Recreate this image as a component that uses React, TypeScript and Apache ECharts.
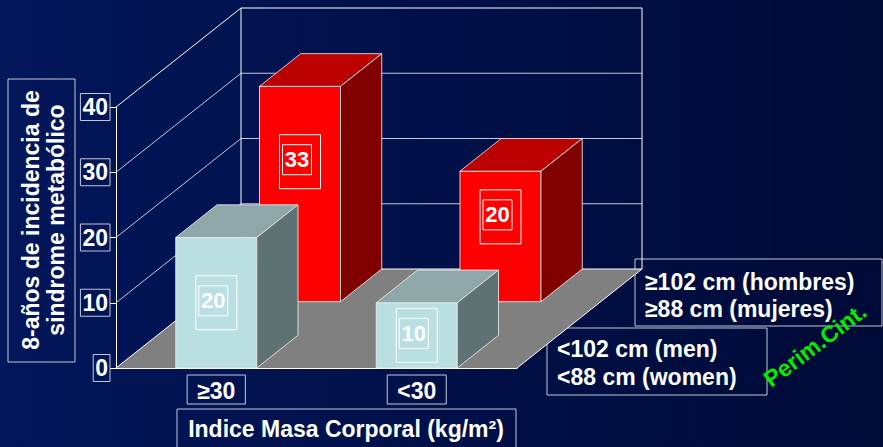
import React, { useEffect, useRef } from "react";
import * as echarts from "echarts";

// ---- data ----
const categories = ["≥30", "<30"];
const yTicks = [0, 10, 20, 30, 40];
const frontValues = [20, 10]; // <102 cm (men) / <88 cm (women)
const backValues = [33, 20]; // ≥102 cm (hombres) / ≥88 cm (mujeres)
const frontName = "<102 cm (men) / <88 cm (women)";
const backName = "≥102 cm (hombres) / ≥88 cm (mujeres)";
const legendHigh = ["≥102 cm (hombres)", "≥88 cm (mujeres)"];
const legendLow = ["<102 cm (men)", "<88 cm (women)"];
const yTitle = ["8-años de incidencia de", "sindrome metabólico"];
const xTitle = "Indice Masa Corporal (kg/m²)";
const depthTitle = "Perim.Cint.";

// ---- geometry / style ----
const FONT = "'Liberation Sans', Arial, sans-serif";
const DX = 125;
const DY = -99;
const BAR_RATIO = 0.404;

function frameRender(params: any, api: any) {
  const cs = params.coordSys;
  const L = cs.x;
  const R = cs.x + cs.width;
  const y0 = api.coord([0, yTicks[0]])[1];
  const yMax = api.coord([0, yTicks[yTicks.length - 1]])[1];
  const children: any[] = [];
  children.push({
    type: "polygon",
    shape: { points: [[L, y0], [R, y0], [R + DX, y0 + DY], [L + DX, y0 + DY]] },
    style: { fill: "#808080", stroke: "none" },
  });
  yTicks.forEach((t, i) => {
    const y = api.coord([0, t])[1];
    const isEdge = i === 0 || i === yTicks.length - 1;
    const col = isEdge ? "#ffffff" : "#c4c8d8";
    children.push({
      type: "line",
      shape: { x1: L + DX, y1: y + DY, x2: R + DX, y2: y + DY },
      style: { stroke: col, lineWidth: 1 },
    });
    children.push({
      type: "line",
      shape: { x1: L, y1: y, x2: L + DX, y2: y + DY },
      style: { stroke: col, lineWidth: 1 },
    });
  });
  children.push({
    type: "line",
    shape: { x1: L + DX, y1: y0 + DY, x2: L + DX, y2: yMax + DY },
    style: { stroke: "#ffffff", lineWidth: 1 },
  });
  children.push({
    type: "line",
    shape: { x1: R + DX, y1: y0 + DY, x2: R + DX, y2: yMax + DY },
    style: { stroke: "#ffffff", lineWidth: 1 },
  });
  children.push({
    type: "line",
    shape: { x1: R, y1: y0, x2: R + DX, y2: y0 + DY },
    style: { stroke: "#ffffff", lineWidth: 1 },
  });
  return { type: "group", children };
}

function makeBarRender(d0: number, d1: number, colors: string[], labelFrac: number) {
  return function (params: any, api: any) {
    const cat = api.value(0);
    const v = api.value(1);
    const base = api.coord([cat, 0]);
    const top = api.coord([cat, v]);
    const bw = api.size([1, 0])[0] * BAR_RATIO;
    const ox = DX * d0;
    const oy = DY * d0;
    const ex = DX * (d1 - d0);
    const ey = DY * (d1 - d0);
    const x0 = base[0] - bw / 2 + ox;
    const x1 = base[0] + bw / 2 + ox;
    const ty = top[1] + oy;
    const by = base[1] + oy;
    const edge = { stroke: "rgba(235,235,235,0.85)", lineWidth: 1 };
    const cx = (x0 + x1) / 2;
    const cy = ty + (by - ty) * labelFrac;
    return {
      type: "group",
      children: [
        { type: "rect", shape: { x: x0, y: ty, width: bw, height: by - ty }, style: { fill: colors[0], ...edge } },
        {
          type: "polygon",
          shape: { points: [[x0, ty], [x1, ty], [x1 + ex, ty + ey], [x0 + ex, ty + ey]] },
          style: { fill: colors[1], ...edge },
        },
        {
          type: "polygon",
          shape: { points: [[x1, ty], [x1 + ex, ty + ey], [x1 + ex, by + ey], [x1, by]] },
          style: { fill: colors[2], ...edge },
        },
        {
          type: "rect",
          shape: { x: cx - 20.5, y: cy - 27, width: 41, height: 54 },
          style: { fill: "none", stroke: "#ffffff", lineWidth: 1 },
        },
        {
          type: "rect",
          shape: { x: cx - 17.5, y: cy - 17, width: 29, height: 30 },
          style: { fill: "none", stroke: "#ffffff", lineWidth: 1 },
        },
        {
          type: "text",
          x: cx - 3,
          y: cy - 2,
          style: {
            text: String(v),
            fill: "#ffffff",
            font: `bold 22px ${FONT}`,
            align: "center",
            verticalAlign: "middle",
          },
        },
      ],
    };
  };
}

export default function App() {
  const ref = useRef<HTMLDivElement>(null);
  useEffect(() => {
    if (!ref.current) return;
    const chart = echarts.init(ref.current, undefined, { renderer: "svg" });
    const txt = { color: "#ffffff", fontWeight: "bold" as const, fontFamily: FONT };
    chart.setOption({
      animation: false,
      backgroundColor: new echarts.graphic.LinearGradient(0, 0, 1, 0, [
        { offset: 0, color: "#02165a" },
        { offset: 1, color: "#000a37" },
      ]),
      grid: { left: 116, top: 107, width: 401, height: 261, containLabel: false },
      xAxis: {
        type: "category",
        data: categories,
        axisLine: { show: true, lineStyle: { color: "#ffffff", width: 1 } },
        axisTick: { show: false },
        axisLabel: {
          ...txt,
          fontSize: 23,
          margin: 7,
          padding: [4, 10, 2, 10],
          borderColor: "#c4c8d8",
          borderWidth: 1,
        },
        splitLine: { show: false },
      },
      yAxis: {
        type: "value",
        min: 0,
        max: 40,
        interval: 10,
        axisLine: { show: true, lineStyle: { color: "#ffffff", width: 1 } },
        axisTick: { show: true, length: 6, lineStyle: { color: "#ffffff" } },
        axisLabel: {
          ...txt,
          fontSize: 23,
          margin: 6,
          padding: [3, 2, 1, 2],
          borderColor: "#c4c8d8",
          borderWidth: 1,
        },
        splitLine: { show: false },
      },
      series: [
        {
          type: "custom",
          name: "frame",
          z: 1,
          silent: true,
          renderItem: frameRender,
          data: [[0, 0]],
        },
        {
          type: "custom",
          name: backName,
          z: 2,
          renderItem: makeBarRender(0.67, 1.0, ["#ff0000", "#bb0000", "#800000"], 0.35),
          data: backValues.map((v, i) => [i, v]),
        },
        {
          type: "custom",
          name: frontName,
          z: 3,
          renderItem: makeBarRender(0, 0.33, ["#b9dfe2", "#8ea8a9", "#5f7273"], 0.5),
          data: frontValues.map((v, i) => [i, v]),
        },
      ],
      graphic: [
        {
          type: "rect",
          shape: { x: 8, y: 79, width: 67, height: 283 },
          style: { fill: "none", stroke: "#c4c8d8", lineWidth: 1 },
        },
        {
          type: "text",
          x: 43,
          y: 220,
          rotation: Math.PI / 2,
          style: {
            text: yTitle.join("\n"),
            fill: "#ffffff",
            font: `bold 23px ${FONT}`,
            lineHeight: 25,
            align: "center",
            verticalAlign: "middle",
          },
        },
        {
          type: "rect",
          shape: { x: 177, y: 409, width: 339, height: 50 },
          style: { fill: "none", stroke: "#c4c8d8", lineWidth: 1 },
        },
        {
          type: "text",
          x: 346,
          y: 429,
          style: {
            text: xTitle,
            fill: "#ffffff",
            font: `bold 23px ${FONT}`,
            align: "center",
            verticalAlign: "middle",
          },
        },
        {
          type: "rect",
          shape: { x: 635, y: 259, width: 247, height: 67 },
          style: { fill: "none", stroke: "#c4c8d8", lineWidth: 1 },
        },
        {
          type: "text",
          x: 645,
          y: 295,
          style: {
            text: legendHigh.join("\n"),
            fill: "#ffffff",
            font: `bold 23px ${FONT}`,
            lineHeight: 27,
            align: "left",
            verticalAlign: "middle",
          },
        },
        {
          type: "rect",
          shape: { x: 547, y: 328, width: 220, height: 67 },
          style: { fill: "none", stroke: "#c4c8d8", lineWidth: 1 },
        },
        {
          type: "text",
          x: 557,
          y: 363,
          style: {
            text: legendLow.join("\n"),
            fill: "#ffffff",
            font: `bold 23px ${FONT}`,
            lineHeight: 28,
            align: "left",
            verticalAlign: "middle",
          },
        },
        {
          type: "text",
          x: 815,
          y: 345,
          rotation: (37 * Math.PI) / 180,
          style: {
            text: depthTitle,
            fill: "#00ee00",
            font: `bold 23px ${FONT}`,
            align: "center",
            verticalAlign: "middle",
          },
        },
      ],
    });
    return () => chart.dispose();
  }, []);
  return (
    <div
      ref={ref}
      style={{ position: "fixed", left: 0, top: 0, width: 883, height: 447 }}
    />
  );
}
